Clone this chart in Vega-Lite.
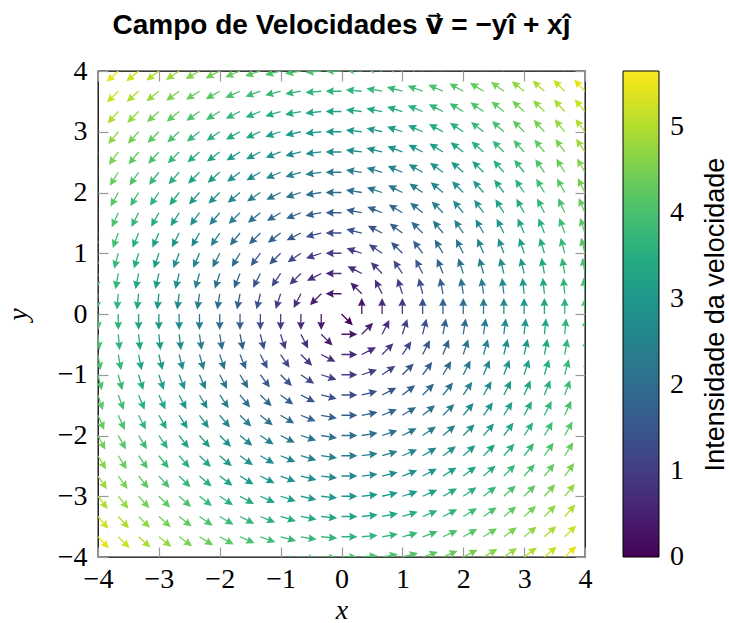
{
"$schema": "https://vega.github.io/schema/vega-lite/v6.json",
"width": 487,
"height": 486,
"autosize": {"type": "none"},
"padding": {"left": 98, "top": 71, "right": 144, "bottom": 66},
"background": "white",
"title": {"text": "Campo de Velocidades v⃗ = −yî + xĵ", "font": "Liberation Sans, DejaVu Sans", "fontSize": 28, "fontWeight": "bold", "color": "black", "anchor": "middle", "offset": 17},
"config": {
  "view": {"stroke": "black", "strokeWidth": 1.3},
  "axis": {"domain": false, "grid": false, "tickColor": "#9a9a9a", "tickSize": -10, "tickWidth": 1.2, "labelFont": "Liberation Serif", "labelFontSize": 28, "labelColor": "black", "labelFlush": false, "labelOverlap": false, "titleFont": "Liberation Serif", "titleFontSize": 28, "titleFontStyle": "italic", "titleFontWeight": "normal", "titleColor": "black"},
  "legend": {"labelFont": "Liberation Serif", "labelFontSize": 28, "labelColor": "black"}
},
"data": {"values": [
{"x":-4,"y":4,"dir":225,"mag":5.66},{"x":-3.667,"y":4,"dir":223,"mag":5.43},{"x":-3.333,"y":4,"dir":220,"mag":5.21},{"x":-3,"y":4,"dir":217,"mag":5},{"x":-2.667,"y":4,"dir":214,"mag":4.81},{"x":-2.333,"y":4,"dir":210,"mag":4.63},{"x":-2,"y":4,"dir":207,"mag":4.47},{"x":-1.667,"y":4,"dir":203,"mag":4.33},{"x":-1.333,"y":4,"dir":198,"mag":4.22},{"x":-1,"y":4,"dir":194,"mag":4.12},{"x":-0.667,"y":4,"dir":189,"mag":4.06},{"x":-0.333,"y":4,"dir":185,"mag":4.01},{"x":0,"y":4,"dir":180,"mag":4},{"x":0.333,"y":4,"dir":175,"mag":4.01},{"x":0.667,"y":4,"dir":171,"mag":4.06},{"x":1,"y":4,"dir":166,"mag":4.12},{"x":1.333,"y":4,"dir":162,"mag":4.22},{"x":1.667,"y":4,"dir":157,"mag":4.33},{"x":2,"y":4,"dir":153,"mag":4.47},{"x":2.333,"y":4,"dir":150,"mag":4.63},{"x":2.667,"y":4,"dir":146,"mag":4.81},{"x":3,"y":4,"dir":143,"mag":5},{"x":3.333,"y":4,"dir":140,"mag":5.21},{"x":3.667,"y":4,"dir":137,"mag":5.43},{"x":4,"y":4,"dir":135,"mag":5.66},
{"x":-4,"y":3.667,"dir":227,"mag":5.43},{"x":-3.667,"y":3.667,"dir":225,"mag":5.19},{"x":-3.333,"y":3.667,"dir":222,"mag":4.96},{"x":-3,"y":3.667,"dir":219,"mag":4.74},{"x":-2.667,"y":3.667,"dir":216,"mag":4.53},{"x":-2.333,"y":3.667,"dir":212,"mag":4.35},{"x":-2,"y":3.667,"dir":209,"mag":4.18},{"x":-1.667,"y":3.667,"dir":204,"mag":4.03},{"x":-1.333,"y":3.667,"dir":200,"mag":3.9},{"x":-1,"y":3.667,"dir":195,"mag":3.8},{"x":-0.667,"y":3.667,"dir":190,"mag":3.73},{"x":-0.333,"y":3.667,"dir":185,"mag":3.68},{"x":0,"y":3.667,"dir":180,"mag":3.67},{"x":0.333,"y":3.667,"dir":175,"mag":3.68},{"x":0.667,"y":3.667,"dir":170,"mag":3.73},{"x":1,"y":3.667,"dir":165,"mag":3.8},{"x":1.333,"y":3.667,"dir":160,"mag":3.9},{"x":1.667,"y":3.667,"dir":156,"mag":4.03},{"x":2,"y":3.667,"dir":151,"mag":4.18},{"x":2.333,"y":3.667,"dir":148,"mag":4.35},{"x":2.667,"y":3.667,"dir":144,"mag":4.53},{"x":3,"y":3.667,"dir":141,"mag":4.74},{"x":3.333,"y":3.667,"dir":138,"mag":4.96},{"x":3.667,"y":3.667,"dir":135,"mag":5.19},{"x":4,"y":3.667,"dir":133,"mag":5.43},
{"x":-4,"y":3.333,"dir":230,"mag":5.21},{"x":-3.667,"y":3.333,"dir":228,"mag":4.96},{"x":-3.333,"y":3.333,"dir":225,"mag":4.71},{"x":-3,"y":3.333,"dir":222,"mag":4.48},{"x":-2.667,"y":3.333,"dir":219,"mag":4.27},{"x":-2.333,"y":3.333,"dir":215,"mag":4.07},{"x":-2,"y":3.333,"dir":211,"mag":3.89},{"x":-1.667,"y":3.333,"dir":207,"mag":3.73},{"x":-1.333,"y":3.333,"dir":202,"mag":3.59},{"x":-1,"y":3.333,"dir":197,"mag":3.48},{"x":-0.667,"y":3.333,"dir":191,"mag":3.4},{"x":-0.333,"y":3.333,"dir":186,"mag":3.35},{"x":0,"y":3.333,"dir":180,"mag":3.33},{"x":0.333,"y":3.333,"dir":174,"mag":3.35},{"x":0.667,"y":3.333,"dir":169,"mag":3.4},{"x":1,"y":3.333,"dir":163,"mag":3.48},{"x":1.333,"y":3.333,"dir":158,"mag":3.59},{"x":1.667,"y":3.333,"dir":153,"mag":3.73},{"x":2,"y":3.333,"dir":149,"mag":3.89},{"x":2.333,"y":3.333,"dir":145,"mag":4.07},{"x":2.667,"y":3.333,"dir":141,"mag":4.27},{"x":3,"y":3.333,"dir":138,"mag":4.48},{"x":3.333,"y":3.333,"dir":135,"mag":4.71},{"x":3.667,"y":3.333,"dir":132,"mag":4.96},{"x":4,"y":3.333,"dir":130,"mag":5.21},
{"x":-4,"y":3,"dir":233,"mag":5},{"x":-3.667,"y":3,"dir":231,"mag":4.74},{"x":-3.333,"y":3,"dir":228,"mag":4.48},{"x":-3,"y":3,"dir":225,"mag":4.24},{"x":-2.667,"y":3,"dir":222,"mag":4.01},{"x":-2.333,"y":3,"dir":218,"mag":3.8},{"x":-2,"y":3,"dir":214,"mag":3.61},{"x":-1.667,"y":3,"dir":209,"mag":3.43},{"x":-1.333,"y":3,"dir":204,"mag":3.28},{"x":-1,"y":3,"dir":198,"mag":3.16},{"x":-0.667,"y":3,"dir":193,"mag":3.07},{"x":-0.333,"y":3,"dir":186,"mag":3.02},{"x":0,"y":3,"dir":180,"mag":3},{"x":0.333,"y":3,"dir":174,"mag":3.02},{"x":0.667,"y":3,"dir":167,"mag":3.07},{"x":1,"y":3,"dir":162,"mag":3.16},{"x":1.333,"y":3,"dir":156,"mag":3.28},{"x":1.667,"y":3,"dir":151,"mag":3.43},{"x":2,"y":3,"dir":146,"mag":3.61},{"x":2.333,"y":3,"dir":142,"mag":3.8},{"x":2.667,"y":3,"dir":138,"mag":4.01},{"x":3,"y":3,"dir":135,"mag":4.24},{"x":3.333,"y":3,"dir":132,"mag":4.48},{"x":3.667,"y":3,"dir":129,"mag":4.74},{"x":4,"y":3,"dir":127,"mag":5},
{"x":-4,"y":2.667,"dir":236,"mag":4.81},{"x":-3.667,"y":2.667,"dir":234,"mag":4.53},{"x":-3.333,"y":2.667,"dir":231,"mag":4.27},{"x":-3,"y":2.667,"dir":228,"mag":4.01},{"x":-2.667,"y":2.667,"dir":225,"mag":3.77},{"x":-2.333,"y":2.667,"dir":221,"mag":3.54},{"x":-2,"y":2.667,"dir":217,"mag":3.33},{"x":-1.667,"y":2.667,"dir":212,"mag":3.14},{"x":-1.333,"y":2.667,"dir":207,"mag":2.98},{"x":-1,"y":2.667,"dir":201,"mag":2.85},{"x":-0.667,"y":2.667,"dir":194,"mag":2.75},{"x":-0.333,"y":2.667,"dir":187,"mag":2.69},{"x":0,"y":2.667,"dir":180,"mag":2.67},{"x":0.333,"y":2.667,"dir":173,"mag":2.69},{"x":0.667,"y":2.667,"dir":166,"mag":2.75},{"x":1,"y":2.667,"dir":159,"mag":2.85},{"x":1.333,"y":2.667,"dir":153,"mag":2.98},{"x":1.667,"y":2.667,"dir":148,"mag":3.14},{"x":2,"y":2.667,"dir":143,"mag":3.33},{"x":2.333,"y":2.667,"dir":139,"mag":3.54},{"x":2.667,"y":2.667,"dir":135,"mag":3.77},{"x":3,"y":2.667,"dir":132,"mag":4.01},{"x":3.333,"y":2.667,"dir":129,"mag":4.27},{"x":3.667,"y":2.667,"dir":126,"mag":4.53},{"x":4,"y":2.667,"dir":124,"mag":4.81},
{"x":-4,"y":2.333,"dir":240,"mag":4.63},{"x":-3.667,"y":2.333,"dir":238,"mag":4.35},{"x":-3.333,"y":2.333,"dir":235,"mag":4.07},{"x":-3,"y":2.333,"dir":232,"mag":3.8},{"x":-2.667,"y":2.333,"dir":229,"mag":3.54},{"x":-2.333,"y":2.333,"dir":225,"mag":3.3},{"x":-2,"y":2.333,"dir":221,"mag":3.07},{"x":-1.667,"y":2.333,"dir":216,"mag":2.87},{"x":-1.333,"y":2.333,"dir":210,"mag":2.69},{"x":-1,"y":2.333,"dir":203,"mag":2.54},{"x":-0.667,"y":2.333,"dir":196,"mag":2.43},{"x":-0.333,"y":2.333,"dir":188,"mag":2.36},{"x":0,"y":2.333,"dir":180,"mag":2.33},{"x":0.333,"y":2.333,"dir":172,"mag":2.36},{"x":0.667,"y":2.333,"dir":164,"mag":2.43},{"x":1,"y":2.333,"dir":157,"mag":2.54},{"x":1.333,"y":2.333,"dir":150,"mag":2.69},{"x":1.667,"y":2.333,"dir":144,"mag":2.87},{"x":2,"y":2.333,"dir":139,"mag":3.07},{"x":2.333,"y":2.333,"dir":135,"mag":3.3},{"x":2.667,"y":2.333,"dir":131,"mag":3.54},{"x":3,"y":2.333,"dir":128,"mag":3.8},{"x":3.333,"y":2.333,"dir":125,"mag":4.07},{"x":3.667,"y":2.333,"dir":122,"mag":4.35},{"x":4,"y":2.333,"dir":120,"mag":4.63},
{"x":-4,"y":2,"dir":243,"mag":4.47},{"x":-3.667,"y":2,"dir":241,"mag":4.18},{"x":-3.333,"y":2,"dir":239,"mag":3.89},{"x":-3,"y":2,"dir":236,"mag":3.61},{"x":-2.667,"y":2,"dir":233,"mag":3.33},{"x":-2.333,"y":2,"dir":229,"mag":3.07},{"x":-2,"y":2,"dir":225,"mag":2.83},{"x":-1.667,"y":2,"dir":220,"mag":2.6},{"x":-1.333,"y":2,"dir":214,"mag":2.4},{"x":-1,"y":2,"dir":207,"mag":2.24},{"x":-0.667,"y":2,"dir":198,"mag":2.11},{"x":-0.333,"y":2,"dir":189,"mag":2.03},{"x":0,"y":2,"dir":180,"mag":2},{"x":0.333,"y":2,"dir":171,"mag":2.03},{"x":0.667,"y":2,"dir":162,"mag":2.11},{"x":1,"y":2,"dir":153,"mag":2.24},{"x":1.333,"y":2,"dir":146,"mag":2.4},{"x":1.667,"y":2,"dir":140,"mag":2.6},{"x":2,"y":2,"dir":135,"mag":2.83},{"x":2.333,"y":2,"dir":131,"mag":3.07},{"x":2.667,"y":2,"dir":127,"mag":3.33},{"x":3,"y":2,"dir":124,"mag":3.61},{"x":3.333,"y":2,"dir":121,"mag":3.89},{"x":3.667,"y":2,"dir":119,"mag":4.18},{"x":4,"y":2,"dir":117,"mag":4.47},
{"x":-4,"y":1.667,"dir":247,"mag":4.33},{"x":-3.667,"y":1.667,"dir":246,"mag":4.03},{"x":-3.333,"y":1.667,"dir":243,"mag":3.73},{"x":-3,"y":1.667,"dir":241,"mag":3.43},{"x":-2.667,"y":1.667,"dir":238,"mag":3.14},{"x":-2.333,"y":1.667,"dir":234,"mag":2.87},{"x":-2,"y":1.667,"dir":230,"mag":2.6},{"x":-1.667,"y":1.667,"dir":225,"mag":2.36},{"x":-1.333,"y":1.667,"dir":219,"mag":2.13},{"x":-1,"y":1.667,"dir":211,"mag":1.94},{"x":-0.667,"y":1.667,"dir":202,"mag":1.8},{"x":-0.333,"y":1.667,"dir":191,"mag":1.7},{"x":0,"y":1.667,"dir":180,"mag":1.67},{"x":0.333,"y":1.667,"dir":169,"mag":1.7},{"x":0.667,"y":1.667,"dir":158,"mag":1.8},{"x":1,"y":1.667,"dir":149,"mag":1.94},{"x":1.333,"y":1.667,"dir":141,"mag":2.13},{"x":1.667,"y":1.667,"dir":135,"mag":2.36},{"x":2,"y":1.667,"dir":130,"mag":2.6},{"x":2.333,"y":1.667,"dir":126,"mag":2.87},{"x":2.667,"y":1.667,"dir":122,"mag":3.14},{"x":3,"y":1.667,"dir":119,"mag":3.43},{"x":3.333,"y":1.667,"dir":117,"mag":3.73},{"x":3.667,"y":1.667,"dir":114,"mag":4.03},{"x":4,"y":1.667,"dir":113,"mag":4.33},
{"x":-4,"y":1.333,"dir":252,"mag":4.22},{"x":-3.667,"y":1.333,"dir":250,"mag":3.9},{"x":-3.333,"y":1.333,"dir":248,"mag":3.59},{"x":-3,"y":1.333,"dir":246,"mag":3.28},{"x":-2.667,"y":1.333,"dir":243,"mag":2.98},{"x":-2.333,"y":1.333,"dir":240,"mag":2.69},{"x":-2,"y":1.333,"dir":236,"mag":2.4},{"x":-1.667,"y":1.333,"dir":231,"mag":2.13},{"x":-1.333,"y":1.333,"dir":225,"mag":1.89},{"x":-1,"y":1.333,"dir":217,"mag":1.67},{"x":-0.667,"y":1.333,"dir":207,"mag":1.49},{"x":-0.333,"y":1.333,"dir":194,"mag":1.37},{"x":0,"y":1.333,"dir":180,"mag":1.33},{"x":0.333,"y":1.333,"dir":166,"mag":1.37},{"x":0.667,"y":1.333,"dir":153,"mag":1.49},{"x":1,"y":1.333,"dir":143,"mag":1.67},{"x":1.333,"y":1.333,"dir":135,"mag":1.89},{"x":1.667,"y":1.333,"dir":129,"mag":2.13},{"x":2,"y":1.333,"dir":124,"mag":2.4},{"x":2.333,"y":1.333,"dir":120,"mag":2.69},{"x":2.667,"y":1.333,"dir":117,"mag":2.98},{"x":3,"y":1.333,"dir":114,"mag":3.28},{"x":3.333,"y":1.333,"dir":112,"mag":3.59},{"x":3.667,"y":1.333,"dir":110,"mag":3.9},{"x":4,"y":1.333,"dir":108,"mag":4.22},
{"x":-4,"y":1,"dir":256,"mag":4.12},{"x":-3.667,"y":1,"dir":255,"mag":3.8},{"x":-3.333,"y":1,"dir":253,"mag":3.48},{"x":-3,"y":1,"dir":252,"mag":3.16},{"x":-2.667,"y":1,"dir":249,"mag":2.85},{"x":-2.333,"y":1,"dir":247,"mag":2.54},{"x":-2,"y":1,"dir":243,"mag":2.24},{"x":-1.667,"y":1,"dir":239,"mag":1.94},{"x":-1.333,"y":1,"dir":233,"mag":1.67},{"x":-1,"y":1,"dir":225,"mag":1.41},{"x":-0.667,"y":1,"dir":214,"mag":1.2},{"x":-0.333,"y":1,"dir":198,"mag":1.05},{"x":0,"y":1,"dir":180,"mag":1},{"x":0.333,"y":1,"dir":162,"mag":1.05},{"x":0.667,"y":1,"dir":146,"mag":1.2},{"x":1,"y":1,"dir":135,"mag":1.41},{"x":1.333,"y":1,"dir":127,"mag":1.67},{"x":1.667,"y":1,"dir":121,"mag":1.94},{"x":2,"y":1,"dir":117,"mag":2.24},{"x":2.333,"y":1,"dir":113,"mag":2.54},{"x":2.667,"y":1,"dir":111,"mag":2.85},{"x":3,"y":1,"dir":108,"mag":3.16},{"x":3.333,"y":1,"dir":107,"mag":3.48},{"x":3.667,"y":1,"dir":105,"mag":3.8},{"x":4,"y":1,"dir":104,"mag":4.12},
{"x":-4,"y":0.667,"dir":261,"mag":4.06},{"x":-3.667,"y":0.667,"dir":260,"mag":3.73},{"x":-3.333,"y":0.667,"dir":259,"mag":3.4},{"x":-3,"y":0.667,"dir":257,"mag":3.07},{"x":-2.667,"y":0.667,"dir":256,"mag":2.75},{"x":-2.333,"y":0.667,"dir":254,"mag":2.43},{"x":-2,"y":0.667,"dir":252,"mag":2.11},{"x":-1.667,"y":0.667,"dir":248,"mag":1.8},{"x":-1.333,"y":0.667,"dir":243,"mag":1.49},{"x":-1,"y":0.667,"dir":236,"mag":1.2},{"x":-0.667,"y":0.667,"dir":225,"mag":0.94},{"x":-0.333,"y":0.667,"dir":207,"mag":0.75},{"x":0,"y":0.667,"dir":180,"mag":0.67},{"x":0.333,"y":0.667,"dir":153,"mag":0.75},{"x":0.667,"y":0.667,"dir":135,"mag":0.94},{"x":1,"y":0.667,"dir":124,"mag":1.2},{"x":1.333,"y":0.667,"dir":117,"mag":1.49},{"x":1.667,"y":0.667,"dir":112,"mag":1.8},{"x":2,"y":0.667,"dir":108,"mag":2.11},{"x":2.333,"y":0.667,"dir":106,"mag":2.43},{"x":2.667,"y":0.667,"dir":104,"mag":2.75},{"x":3,"y":0.667,"dir":103,"mag":3.07},{"x":3.333,"y":0.667,"dir":101,"mag":3.4},{"x":3.667,"y":0.667,"dir":100,"mag":3.73},{"x":4,"y":0.667,"dir":99,"mag":4.06},
{"x":-4,"y":0.333,"dir":265,"mag":4.01},{"x":-3.667,"y":0.333,"dir":265,"mag":3.68},{"x":-3.333,"y":0.333,"dir":264,"mag":3.35},{"x":-3,"y":0.333,"dir":264,"mag":3.02},{"x":-2.667,"y":0.333,"dir":263,"mag":2.69},{"x":-2.333,"y":0.333,"dir":262,"mag":2.36},{"x":-2,"y":0.333,"dir":261,"mag":2.03},{"x":-1.667,"y":0.333,"dir":259,"mag":1.7},{"x":-1.333,"y":0.333,"dir":256,"mag":1.37},{"x":-1,"y":0.333,"dir":252,"mag":1.05},{"x":-0.667,"y":0.333,"dir":243,"mag":0.75},{"x":-0.333,"y":0.333,"dir":225,"mag":0.47},{"x":0,"y":0.333,"dir":180,"mag":0.33},{"x":0.333,"y":0.333,"dir":135,"mag":0.47},{"x":0.667,"y":0.333,"dir":117,"mag":0.75},{"x":1,"y":0.333,"dir":108,"mag":1.05},{"x":1.333,"y":0.333,"dir":104,"mag":1.37},{"x":1.667,"y":0.333,"dir":101,"mag":1.7},{"x":2,"y":0.333,"dir":99,"mag":2.03},{"x":2.333,"y":0.333,"dir":98,"mag":2.36},{"x":2.667,"y":0.333,"dir":97,"mag":2.69},{"x":3,"y":0.333,"dir":96,"mag":3.02},{"x":3.333,"y":0.333,"dir":96,"mag":3.35},{"x":3.667,"y":0.333,"dir":95,"mag":3.68},{"x":4,"y":0.333,"dir":95,"mag":4.01},
{"x":-4,"y":0,"dir":270,"mag":4},{"x":-3.667,"y":0,"dir":270,"mag":3.67},{"x":-3.333,"y":0,"dir":270,"mag":3.33},{"x":-3,"y":0,"dir":270,"mag":3},{"x":-2.667,"y":0,"dir":270,"mag":2.67},{"x":-2.333,"y":0,"dir":270,"mag":2.33},{"x":-2,"y":0,"dir":270,"mag":2},{"x":-1.667,"y":0,"dir":270,"mag":1.67},{"x":-1.333,"y":0,"dir":270,"mag":1.33},{"x":-1,"y":0,"dir":270,"mag":1},{"x":-0.667,"y":0,"dir":270,"mag":0.67},{"x":-0.333,"y":0,"dir":270,"mag":0.33},{"x":0,"y":0,"dir":315,"mag":0},{"x":0.333,"y":0,"dir":90,"mag":0.33},{"x":0.667,"y":0,"dir":90,"mag":0.67},{"x":1,"y":0,"dir":90,"mag":1},{"x":1.333,"y":0,"dir":90,"mag":1.33},{"x":1.667,"y":0,"dir":90,"mag":1.67},{"x":2,"y":0,"dir":90,"mag":2},{"x":2.333,"y":0,"dir":90,"mag":2.33},{"x":2.667,"y":0,"dir":90,"mag":2.67},{"x":3,"y":0,"dir":90,"mag":3},{"x":3.333,"y":0,"dir":90,"mag":3.33},{"x":3.667,"y":0,"dir":90,"mag":3.67},{"x":4,"y":0,"dir":90,"mag":4},
{"x":-4,"y":-0.333,"dir":275,"mag":4.01},{"x":-3.667,"y":-0.333,"dir":275,"mag":3.68},{"x":-3.333,"y":-0.333,"dir":276,"mag":3.35},{"x":-3,"y":-0.333,"dir":276,"mag":3.02},{"x":-2.667,"y":-0.333,"dir":277,"mag":2.69},{"x":-2.333,"y":-0.333,"dir":278,"mag":2.36},{"x":-2,"y":-0.333,"dir":279,"mag":2.03},{"x":-1.667,"y":-0.333,"dir":281,"mag":1.7},{"x":-1.333,"y":-0.333,"dir":284,"mag":1.37},{"x":-1,"y":-0.333,"dir":288,"mag":1.05},{"x":-0.667,"y":-0.333,"dir":297,"mag":0.75},{"x":-0.333,"y":-0.333,"dir":315,"mag":0.47},{"x":0,"y":-0.333,"dir":0,"mag":0.33},{"x":0.333,"y":-0.333,"dir":45,"mag":0.47},{"x":0.667,"y":-0.333,"dir":63,"mag":0.75},{"x":1,"y":-0.333,"dir":72,"mag":1.05},{"x":1.333,"y":-0.333,"dir":76,"mag":1.37},{"x":1.667,"y":-0.333,"dir":79,"mag":1.7},{"x":2,"y":-0.333,"dir":81,"mag":2.03},{"x":2.333,"y":-0.333,"dir":82,"mag":2.36},{"x":2.667,"y":-0.333,"dir":83,"mag":2.69},{"x":3,"y":-0.333,"dir":84,"mag":3.02},{"x":3.333,"y":-0.333,"dir":84,"mag":3.35},{"x":3.667,"y":-0.333,"dir":85,"mag":3.68},{"x":4,"y":-0.333,"dir":85,"mag":4.01},
{"x":-4,"y":-0.667,"dir":279,"mag":4.06},{"x":-3.667,"y":-0.667,"dir":280,"mag":3.73},{"x":-3.333,"y":-0.667,"dir":281,"mag":3.4},{"x":-3,"y":-0.667,"dir":283,"mag":3.07},{"x":-2.667,"y":-0.667,"dir":284,"mag":2.75},{"x":-2.333,"y":-0.667,"dir":286,"mag":2.43},{"x":-2,"y":-0.667,"dir":288,"mag":2.11},{"x":-1.667,"y":-0.667,"dir":292,"mag":1.8},{"x":-1.333,"y":-0.667,"dir":297,"mag":1.49},{"x":-1,"y":-0.667,"dir":304,"mag":1.2},{"x":-0.667,"y":-0.667,"dir":315,"mag":0.94},{"x":-0.333,"y":-0.667,"dir":333,"mag":0.75},{"x":0,"y":-0.667,"dir":0,"mag":0.67},{"x":0.333,"y":-0.667,"dir":27,"mag":0.75},{"x":0.667,"y":-0.667,"dir":45,"mag":0.94},{"x":1,"y":-0.667,"dir":56,"mag":1.2},{"x":1.333,"y":-0.667,"dir":63,"mag":1.49},{"x":1.667,"y":-0.667,"dir":68,"mag":1.8},{"x":2,"y":-0.667,"dir":72,"mag":2.11},{"x":2.333,"y":-0.667,"dir":74,"mag":2.43},{"x":2.667,"y":-0.667,"dir":76,"mag":2.75},{"x":3,"y":-0.667,"dir":77,"mag":3.07},{"x":3.333,"y":-0.667,"dir":79,"mag":3.4},{"x":3.667,"y":-0.667,"dir":80,"mag":3.73},{"x":4,"y":-0.667,"dir":81,"mag":4.06},
{"x":-4,"y":-1,"dir":284,"mag":4.12},{"x":-3.667,"y":-1,"dir":285,"mag":3.8},{"x":-3.333,"y":-1,"dir":287,"mag":3.48},{"x":-3,"y":-1,"dir":288,"mag":3.16},{"x":-2.667,"y":-1,"dir":291,"mag":2.85},{"x":-2.333,"y":-1,"dir":293,"mag":2.54},{"x":-2,"y":-1,"dir":297,"mag":2.24},{"x":-1.667,"y":-1,"dir":301,"mag":1.94},{"x":-1.333,"y":-1,"dir":307,"mag":1.67},{"x":-1,"y":-1,"dir":315,"mag":1.41},{"x":-0.667,"y":-1,"dir":326,"mag":1.2},{"x":-0.333,"y":-1,"dir":342,"mag":1.05},{"x":0,"y":-1,"dir":0,"mag":1},{"x":0.333,"y":-1,"dir":18,"mag":1.05},{"x":0.667,"y":-1,"dir":34,"mag":1.2},{"x":1,"y":-1,"dir":45,"mag":1.41},{"x":1.333,"y":-1,"dir":53,"mag":1.67},{"x":1.667,"y":-1,"dir":59,"mag":1.94},{"x":2,"y":-1,"dir":63,"mag":2.24},{"x":2.333,"y":-1,"dir":67,"mag":2.54},{"x":2.667,"y":-1,"dir":69,"mag":2.85},{"x":3,"y":-1,"dir":72,"mag":3.16},{"x":3.333,"y":-1,"dir":73,"mag":3.48},{"x":3.667,"y":-1,"dir":75,"mag":3.8},{"x":4,"y":-1,"dir":76,"mag":4.12},
{"x":-4,"y":-1.333,"dir":288,"mag":4.22},{"x":-3.667,"y":-1.333,"dir":290,"mag":3.9},{"x":-3.333,"y":-1.333,"dir":292,"mag":3.59},{"x":-3,"y":-1.333,"dir":294,"mag":3.28},{"x":-2.667,"y":-1.333,"dir":297,"mag":2.98},{"x":-2.333,"y":-1.333,"dir":300,"mag":2.69},{"x":-2,"y":-1.333,"dir":304,"mag":2.4},{"x":-1.667,"y":-1.333,"dir":309,"mag":2.13},{"x":-1.333,"y":-1.333,"dir":315,"mag":1.89},{"x":-1,"y":-1.333,"dir":323,"mag":1.67},{"x":-0.667,"y":-1.333,"dir":333,"mag":1.49},{"x":-0.333,"y":-1.333,"dir":346,"mag":1.37},{"x":0,"y":-1.333,"dir":0,"mag":1.33},{"x":0.333,"y":-1.333,"dir":14,"mag":1.37},{"x":0.667,"y":-1.333,"dir":27,"mag":1.49},{"x":1,"y":-1.333,"dir":37,"mag":1.67},{"x":1.333,"y":-1.333,"dir":45,"mag":1.89},{"x":1.667,"y":-1.333,"dir":51,"mag":2.13},{"x":2,"y":-1.333,"dir":56,"mag":2.4},{"x":2.333,"y":-1.333,"dir":60,"mag":2.69},{"x":2.667,"y":-1.333,"dir":63,"mag":2.98},{"x":3,"y":-1.333,"dir":66,"mag":3.28},{"x":3.333,"y":-1.333,"dir":68,"mag":3.59},{"x":3.667,"y":-1.333,"dir":70,"mag":3.9},{"x":4,"y":-1.333,"dir":72,"mag":4.22},
{"x":-4,"y":-1.667,"dir":293,"mag":4.33},{"x":-3.667,"y":-1.667,"dir":294,"mag":4.03},{"x":-3.333,"y":-1.667,"dir":297,"mag":3.73},{"x":-3,"y":-1.667,"dir":299,"mag":3.43},{"x":-2.667,"y":-1.667,"dir":302,"mag":3.14},{"x":-2.333,"y":-1.667,"dir":306,"mag":2.87},{"x":-2,"y":-1.667,"dir":310,"mag":2.6},{"x":-1.667,"y":-1.667,"dir":315,"mag":2.36},{"x":-1.333,"y":-1.667,"dir":321,"mag":2.13},{"x":-1,"y":-1.667,"dir":329,"mag":1.94},{"x":-0.667,"y":-1.667,"dir":338,"mag":1.8},{"x":-0.333,"y":-1.667,"dir":349,"mag":1.7},{"x":0,"y":-1.667,"dir":0,"mag":1.67},{"x":0.333,"y":-1.667,"dir":11,"mag":1.7},{"x":0.667,"y":-1.667,"dir":22,"mag":1.8},{"x":1,"y":-1.667,"dir":31,"mag":1.94},{"x":1.333,"y":-1.667,"dir":39,"mag":2.13},{"x":1.667,"y":-1.667,"dir":45,"mag":2.36},{"x":2,"y":-1.667,"dir":50,"mag":2.6},{"x":2.333,"y":-1.667,"dir":54,"mag":2.87},{"x":2.667,"y":-1.667,"dir":58,"mag":3.14},{"x":3,"y":-1.667,"dir":61,"mag":3.43},{"x":3.333,"y":-1.667,"dir":63,"mag":3.73},{"x":3.667,"y":-1.667,"dir":66,"mag":4.03},{"x":4,"y":-1.667,"dir":67,"mag":4.33},
{"x":-4,"y":-2,"dir":297,"mag":4.47},{"x":-3.667,"y":-2,"dir":299,"mag":4.18},{"x":-3.333,"y":-2,"dir":301,"mag":3.89},{"x":-3,"y":-2,"dir":304,"mag":3.61},{"x":-2.667,"y":-2,"dir":307,"mag":3.33},{"x":-2.333,"y":-2,"dir":311,"mag":3.07},{"x":-2,"y":-2,"dir":315,"mag":2.83},{"x":-1.667,"y":-2,"dir":320,"mag":2.6},{"x":-1.333,"y":-2,"dir":326,"mag":2.4},{"x":-1,"y":-2,"dir":333,"mag":2.24},{"x":-0.667,"y":-2,"dir":342,"mag":2.11},{"x":-0.333,"y":-2,"dir":351,"mag":2.03},{"x":0,"y":-2,"dir":0,"mag":2},{"x":0.333,"y":-2,"dir":9,"mag":2.03},{"x":0.667,"y":-2,"dir":18,"mag":2.11},{"x":1,"y":-2,"dir":27,"mag":2.24},{"x":1.333,"y":-2,"dir":34,"mag":2.4},{"x":1.667,"y":-2,"dir":40,"mag":2.6},{"x":2,"y":-2,"dir":45,"mag":2.83},{"x":2.333,"y":-2,"dir":49,"mag":3.07},{"x":2.667,"y":-2,"dir":53,"mag":3.33},{"x":3,"y":-2,"dir":56,"mag":3.61},{"x":3.333,"y":-2,"dir":59,"mag":3.89},{"x":3.667,"y":-2,"dir":61,"mag":4.18},{"x":4,"y":-2,"dir":63,"mag":4.47},
{"x":-4,"y":-2.333,"dir":300,"mag":4.63},{"x":-3.667,"y":-2.333,"dir":302,"mag":4.35},{"x":-3.333,"y":-2.333,"dir":305,"mag":4.07},{"x":-3,"y":-2.333,"dir":308,"mag":3.8},{"x":-2.667,"y":-2.333,"dir":311,"mag":3.54},{"x":-2.333,"y":-2.333,"dir":315,"mag":3.3},{"x":-2,"y":-2.333,"dir":319,"mag":3.07},{"x":-1.667,"y":-2.333,"dir":324,"mag":2.87},{"x":-1.333,"y":-2.333,"dir":330,"mag":2.69},{"x":-1,"y":-2.333,"dir":337,"mag":2.54},{"x":-0.667,"y":-2.333,"dir":344,"mag":2.43},{"x":-0.333,"y":-2.333,"dir":352,"mag":2.36},{"x":0,"y":-2.333,"dir":0,"mag":2.33},{"x":0.333,"y":-2.333,"dir":8,"mag":2.36},{"x":0.667,"y":-2.333,"dir":16,"mag":2.43},{"x":1,"y":-2.333,"dir":23,"mag":2.54},{"x":1.333,"y":-2.333,"dir":30,"mag":2.69},{"x":1.667,"y":-2.333,"dir":36,"mag":2.87},{"x":2,"y":-2.333,"dir":41,"mag":3.07},{"x":2.333,"y":-2.333,"dir":45,"mag":3.3},{"x":2.667,"y":-2.333,"dir":49,"mag":3.54},{"x":3,"y":-2.333,"dir":52,"mag":3.8},{"x":3.333,"y":-2.333,"dir":55,"mag":4.07},{"x":3.667,"y":-2.333,"dir":58,"mag":4.35},{"x":4,"y":-2.333,"dir":60,"mag":4.63},
{"x":-4,"y":-2.667,"dir":304,"mag":4.81},{"x":-3.667,"y":-2.667,"dir":306,"mag":4.53},{"x":-3.333,"y":-2.667,"dir":309,"mag":4.27},{"x":-3,"y":-2.667,"dir":312,"mag":4.01},{"x":-2.667,"y":-2.667,"dir":315,"mag":3.77},{"x":-2.333,"y":-2.667,"dir":319,"mag":3.54},{"x":-2,"y":-2.667,"dir":323,"mag":3.33},{"x":-1.667,"y":-2.667,"dir":328,"mag":3.14},{"x":-1.333,"y":-2.667,"dir":333,"mag":2.98},{"x":-1,"y":-2.667,"dir":339,"mag":2.85},{"x":-0.667,"y":-2.667,"dir":346,"mag":2.75},{"x":-0.333,"y":-2.667,"dir":353,"mag":2.69},{"x":0,"y":-2.667,"dir":0,"mag":2.67},{"x":0.333,"y":-2.667,"dir":7,"mag":2.69},{"x":0.667,"y":-2.667,"dir":14,"mag":2.75},{"x":1,"y":-2.667,"dir":21,"mag":2.85},{"x":1.333,"y":-2.667,"dir":27,"mag":2.98},{"x":1.667,"y":-2.667,"dir":32,"mag":3.14},{"x":2,"y":-2.667,"dir":37,"mag":3.33},{"x":2.333,"y":-2.667,"dir":41,"mag":3.54},{"x":2.667,"y":-2.667,"dir":45,"mag":3.77},{"x":3,"y":-2.667,"dir":48,"mag":4.01},{"x":3.333,"y":-2.667,"dir":51,"mag":4.27},{"x":3.667,"y":-2.667,"dir":54,"mag":4.53},{"x":4,"y":-2.667,"dir":56,"mag":4.81},
{"x":-4,"y":-3,"dir":307,"mag":5},{"x":-3.667,"y":-3,"dir":309,"mag":4.74},{"x":-3.333,"y":-3,"dir":312,"mag":4.48},{"x":-3,"y":-3,"dir":315,"mag":4.24},{"x":-2.667,"y":-3,"dir":318,"mag":4.01},{"x":-2.333,"y":-3,"dir":322,"mag":3.8},{"x":-2,"y":-3,"dir":326,"mag":3.61},{"x":-1.667,"y":-3,"dir":331,"mag":3.43},{"x":-1.333,"y":-3,"dir":336,"mag":3.28},{"x":-1,"y":-3,"dir":342,"mag":3.16},{"x":-0.667,"y":-3,"dir":347,"mag":3.07},{"x":-0.333,"y":-3,"dir":354,"mag":3.02},{"x":0,"y":-3,"dir":0,"mag":3},{"x":0.333,"y":-3,"dir":6,"mag":3.02},{"x":0.667,"y":-3,"dir":13,"mag":3.07},{"x":1,"y":-3,"dir":18,"mag":3.16},{"x":1.333,"y":-3,"dir":24,"mag":3.28},{"x":1.667,"y":-3,"dir":29,"mag":3.43},{"x":2,"y":-3,"dir":34,"mag":3.61},{"x":2.333,"y":-3,"dir":38,"mag":3.8},{"x":2.667,"y":-3,"dir":42,"mag":4.01},{"x":3,"y":-3,"dir":45,"mag":4.24},{"x":3.333,"y":-3,"dir":48,"mag":4.48},{"x":3.667,"y":-3,"dir":51,"mag":4.74},{"x":4,"y":-3,"dir":53,"mag":5},
{"x":-4,"y":-3.333,"dir":310,"mag":5.21},{"x":-3.667,"y":-3.333,"dir":312,"mag":4.96},{"x":-3.333,"y":-3.333,"dir":315,"mag":4.71},{"x":-3,"y":-3.333,"dir":318,"mag":4.48},{"x":-2.667,"y":-3.333,"dir":321,"mag":4.27},{"x":-2.333,"y":-3.333,"dir":325,"mag":4.07},{"x":-2,"y":-3.333,"dir":329,"mag":3.89},{"x":-1.667,"y":-3.333,"dir":333,"mag":3.73},{"x":-1.333,"y":-3.333,"dir":338,"mag":3.59},{"x":-1,"y":-3.333,"dir":343,"mag":3.48},{"x":-0.667,"y":-3.333,"dir":349,"mag":3.4},{"x":-0.333,"y":-3.333,"dir":354,"mag":3.35},{"x":0,"y":-3.333,"dir":0,"mag":3.33},{"x":0.333,"y":-3.333,"dir":6,"mag":3.35},{"x":0.667,"y":-3.333,"dir":11,"mag":3.4},{"x":1,"y":-3.333,"dir":17,"mag":3.48},{"x":1.333,"y":-3.333,"dir":22,"mag":3.59},{"x":1.667,"y":-3.333,"dir":27,"mag":3.73},{"x":2,"y":-3.333,"dir":31,"mag":3.89},{"x":2.333,"y":-3.333,"dir":35,"mag":4.07},{"x":2.667,"y":-3.333,"dir":39,"mag":4.27},{"x":3,"y":-3.333,"dir":42,"mag":4.48},{"x":3.333,"y":-3.333,"dir":45,"mag":4.71},{"x":3.667,"y":-3.333,"dir":48,"mag":4.96},{"x":4,"y":-3.333,"dir":50,"mag":5.21},
{"x":-4,"y":-3.667,"dir":313,"mag":5.43},{"x":-3.667,"y":-3.667,"dir":315,"mag":5.19},{"x":-3.333,"y":-3.667,"dir":318,"mag":4.96},{"x":-3,"y":-3.667,"dir":321,"mag":4.74},{"x":-2.667,"y":-3.667,"dir":324,"mag":4.53},{"x":-2.333,"y":-3.667,"dir":328,"mag":4.35},{"x":-2,"y":-3.667,"dir":331,"mag":4.18},{"x":-1.667,"y":-3.667,"dir":336,"mag":4.03},{"x":-1.333,"y":-3.667,"dir":340,"mag":3.9},{"x":-1,"y":-3.667,"dir":345,"mag":3.8},{"x":-0.667,"y":-3.667,"dir":350,"mag":3.73},{"x":-0.333,"y":-3.667,"dir":355,"mag":3.68},{"x":0,"y":-3.667,"dir":0,"mag":3.67},{"x":0.333,"y":-3.667,"dir":5,"mag":3.68},{"x":0.667,"y":-3.667,"dir":10,"mag":3.73},{"x":1,"y":-3.667,"dir":15,"mag":3.8},{"x":1.333,"y":-3.667,"dir":20,"mag":3.9},{"x":1.667,"y":-3.667,"dir":24,"mag":4.03},{"x":2,"y":-3.667,"dir":29,"mag":4.18},{"x":2.333,"y":-3.667,"dir":32,"mag":4.35},{"x":2.667,"y":-3.667,"dir":36,"mag":4.53},{"x":3,"y":-3.667,"dir":39,"mag":4.74},{"x":3.333,"y":-3.667,"dir":42,"mag":4.96},{"x":3.667,"y":-3.667,"dir":45,"mag":5.19},{"x":4,"y":-3.667,"dir":47,"mag":5.43},
{"x":-4,"y":-4,"dir":315,"mag":5.66},{"x":-3.667,"y":-4,"dir":317,"mag":5.43},{"x":-3.333,"y":-4,"dir":320,"mag":5.21},{"x":-3,"y":-4,"dir":323,"mag":5},{"x":-2.667,"y":-4,"dir":326,"mag":4.81},{"x":-2.333,"y":-4,"dir":330,"mag":4.63},{"x":-2,"y":-4,"dir":333,"mag":4.47},{"x":-1.667,"y":-4,"dir":337,"mag":4.33},{"x":-1.333,"y":-4,"dir":342,"mag":4.22},{"x":-1,"y":-4,"dir":346,"mag":4.12},{"x":-0.667,"y":-4,"dir":351,"mag":4.06},{"x":-0.333,"y":-4,"dir":355,"mag":4.01},{"x":0,"y":-4,"dir":0,"mag":4},{"x":0.333,"y":-4,"dir":5,"mag":4.01},{"x":0.667,"y":-4,"dir":9,"mag":4.06},{"x":1,"y":-4,"dir":14,"mag":4.12},{"x":1.333,"y":-4,"dir":18,"mag":4.22},{"x":1.667,"y":-4,"dir":23,"mag":4.33},{"x":2,"y":-4,"dir":27,"mag":4.47},{"x":2.333,"y":-4,"dir":30,"mag":4.63},{"x":2.667,"y":-4,"dir":34,"mag":4.81},{"x":3,"y":-4,"dir":37,"mag":5},{"x":3.333,"y":-4,"dir":40,"mag":5.21},{"x":3.667,"y":-4,"dir":43,"mag":5.43},{"x":4,"y":-4,"dir":45,"mag":5.66}
]},
"layer": [
  {
    "mark": {"type": "point", "shape": "M0,0L0.7,0M1,0L0.6,-0.19L0.66,0L0.6,0.19Z", "filled": true, "clip": true, "size": 841, "strokeWidth": 1.3, "opacity": 1},
    "encoding": {
      "x": {"field": "x", "type": "quantitative", "scale": {"domain": [-4, 4], "nice": false, "zero": false}, "axis": {"orient": "bottom", "values": [-4, -3, -2, -1, 0, 1, 2, 3, 4], "title": "x", "labelPadding": 18, "titlePadding": 3}},
      "y": {"field": "y", "type": "quantitative", "scale": {"domain": [-4, 4], "nice": false, "zero": false}, "axis": {"orient": "left", "values": [-4, -3, -2, -1, 0, 1, 2, 3, 4], "title": "y", "labelPadding": 21, "titlePadding": 25}},
      "angle": {"field": "dir", "type": "quantitative", "scale": {"domain": [0, 360], "range": [360, 0]}},
      "color": {"field": "mag", "type": "quantitative", "scale": {"scheme": "viridis", "domain": [-0.003, 5.657]},
        "legend": {"type": "gradient", "title": null, "orient": "none", "legendX": 525, "legendY": 0, "padding": 0, "direction": "vertical", "gradientLength": 486, "gradientThickness": 36, "gradientStrokeColor": "black", "gradientStrokeWidth": 1, "values": [0, 1, 2, 3, 4, 5], "labelFont": "Liberation Serif", "labelFontSize": 28, "labelColor": "black", "labelOffset": 11, "labelBaseline": "middle", "labelOverlap": false}},
      "stroke": {"field": "mag", "type": "quantitative", "scale": {"scheme": "viridis", "domain": [0, 5.6572]}, "legend": null}
    }
  },
  {
    "mark": {"type": "point", "opacity": 0},
    "encoding": {
      "x": {"field": "x", "type": "quantitative", "scale": {"domain": [-4, 4], "nice": false, "zero": false}, "axis": {"orient": "top", "values": [-4, -3, -2, -1, 0, 1, 2, 3, 4], "labels": false, "title": null}},
      "y": {"field": "y", "type": "quantitative", "scale": {"domain": [-4, 4], "nice": false, "zero": false}, "axis": {"orient": "right", "values": [-4, -3, -2, -1, 0, 1, 2, 3, 4], "labels": false, "title": "Intensidade da velocidade", "titleFont": "Liberation Sans", "titleFontStyle": "normal", "titleFontSize": 27, "titleAngle": 270, "titleBaseline": "alphabetic", "titleAlign": "center", "titleX": 138, "titleY": 243}}
    }
  }
],
"resolve": {"scale": {"x": "independent", "y": "independent"}, "axis": {"x": "independent", "y": "independent"}}
}
